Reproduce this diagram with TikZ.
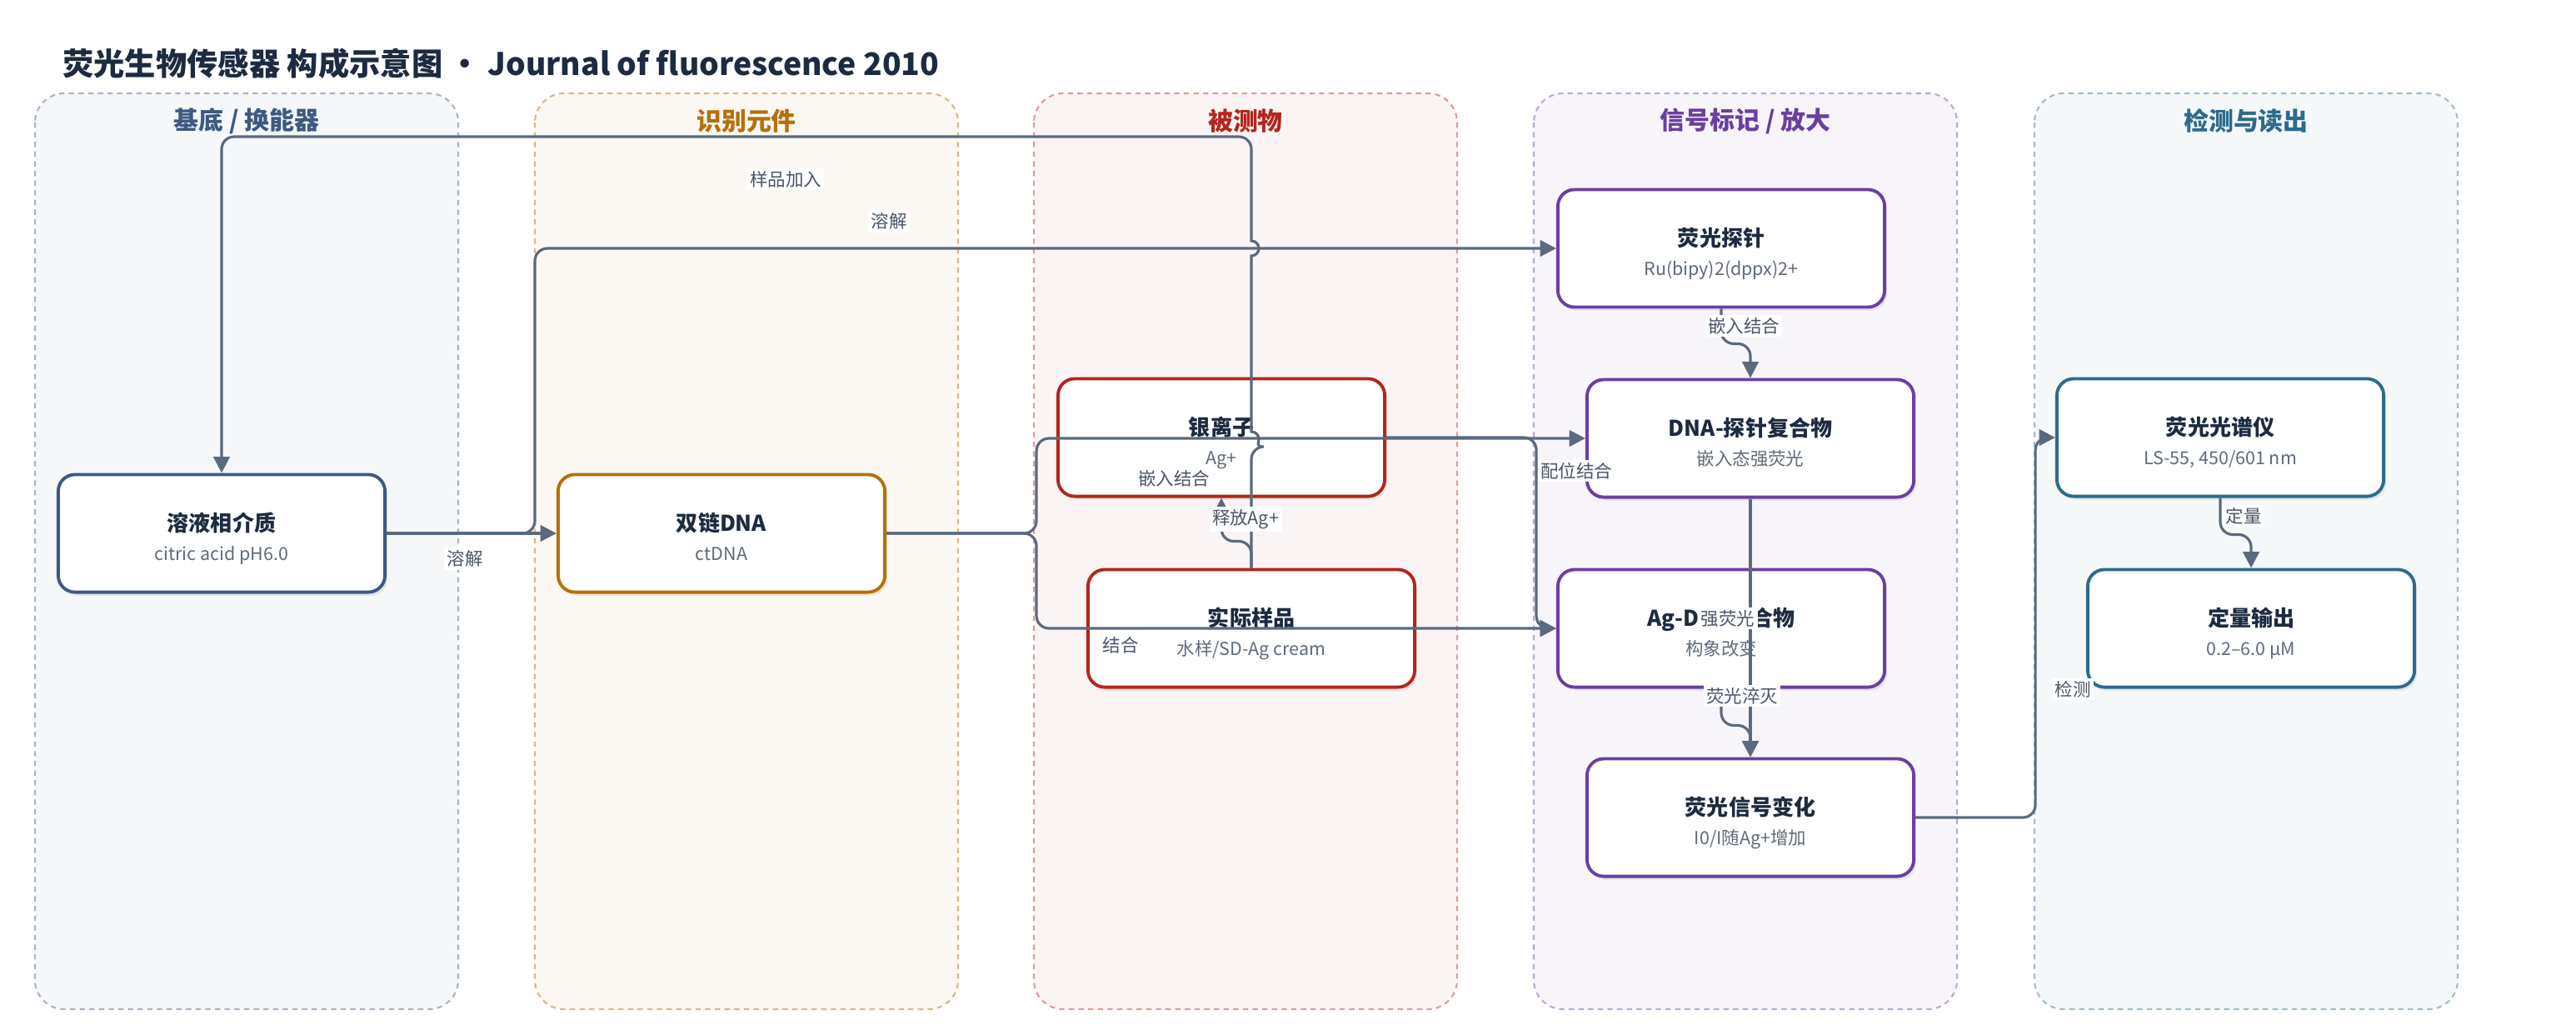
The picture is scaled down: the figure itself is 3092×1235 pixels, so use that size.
\documentclass[tikz,border=0pt]{standalone}
\usepackage{fontspec}
\setmainfont{Noto Sans CJK SC}
\usetikzlibrary{arrows.meta,shadows}

\definecolor{ink}{HTML}{1C2B40}
\definecolor{subgray}{HTML}{5F6B7A}
\definecolor{labgray}{HTML}{4A5566}
\definecolor{edgecol}{HTML}{5A6A7E}
\definecolor{substrate}{HTML}{3D5A80}
\definecolor{recog}{HTML}{B5700A}
\definecolor{analyte}{HTML}{B3261E}
\definecolor{signal}{HTML}{6B3FA0}
\definecolor{readout}{HTML}{2E6B8A}

\newcommand\boxtitle[1]{\rule{0pt}{11.6pt}{\fontsize{7.4}{10}\selectfont\bfseries\color{ink}#1}}

\begin{document}
\begin{tikzpicture}[x=0.01cm,y=-0.01cm]
        \tikzstyle{lane}=[dash pattern=on 1.8pt off 1.5pt, line width=0.6pt, rounded corners=0.35cm]
        \tikzstyle{lanetitle}=[font=\fontsize{8.5}{10}\selectfont\bfseries]
        \tikzstyle{box}=[rectangle, rounded corners=0.2cm, fill=white, line width=1.1pt, minimum width=3.92cm, minimum height=1.41cm, inner sep=0pt, font=\fontsize{6.1}{10}\selectfont, text=subgray, drop shadow={shadow xshift=0.8pt, shadow yshift=-1.2pt, opacity=0.15}]
        \tikzstyle{edge}=[draw=edgecol, line width=0.9pt, rounded corners=0.15cm, -{Triangle[length=5.5pt,width=5.5pt]}]
        \tikzstyle{lbl}=[fill=white, inner sep=1pt, font=\fontsize{6.1}{7}\selectfont, text=labgray]

        \useasboundingbox (0,0) rectangle (3092,1235);

        \node[anchor=west, font=\fontsize{10.6}{12}\selectfont\bfseries, text=ink] (title) at (63,76) {荧光生物传感器 构成示意图 • Journal of fluorescence 2010};

        \draw[lane, fill=substrate!5, draw=substrate!45] (42,112) rectangle (550,1211);
        \draw[lane, fill=recog!5, draw=recog!50] (642,112) rectangle (1150,1211);
        \draw[lane, fill=analyte!5, draw=analyte!45] (1241,112) rectangle (1749,1211);
        \draw[lane, fill=signal!5, draw=signal!45] (1841,112) rectangle (2349,1211);
        \draw[lane, fill=readout!5, draw=readout!45] (2442,112) rectangle (2950,1211);

        \node[lanetitle, text=substrate] (t1) at (296,145) {基底 / 换能器};
        \node[lanetitle, text=recog]     (t2) at (896,145) {识别元件};
        \node[lanetitle, text=analyte]   (t3) at (1495,145) {被测物};
        \node[lanetitle, text=signal]    (t4) at (2095,145) {信号标记 / 放大};
        \node[lanetitle, text=readout]   (t5) at (2696,145) {检测与读出};

        \node[box, draw=substrate] (sol)    at (266,640)  {\begin{tabular}{c} \boxtitle{溶液相介质}   \\ citric acid pH6.0  \end{tabular}};
        \node[box, draw=recog]     (dna)    at (866,640)  {\begin{tabular}{c} \boxtitle{双链DNA}      \\ ctDNA              \end{tabular}};
        \node[box, draw=analyte]   (ag)     at (1466,525) {\begin{tabular}{c} \boxtitle{银离子}       \\ Ag+                \end{tabular}};
        \node[box, draw=analyte]   (sample) at (1502,754) {\begin{tabular}{c} \boxtitle{实际样品}     \\ 水样/SD-Ag cream   \end{tabular}};
        \node[box, draw=signal]    (probe)  at (2066,298) {\begin{tabular}{c} \boxtitle{荧光探针}     \\ Ru(bipy)2(dppx)2+  \end{tabular}};
        \node[box, draw=signal]    (cplx)   at (2101,526) {\begin{tabular}{c} \boxtitle{DNA-探针复合物} \\ 嵌入态强荧光     \end{tabular}};
        \node[box, draw=signal]    (agd)    at (2066,754) {\begin{tabular}{c} \boxtitle{Ag-D\hphantom{NA复}合物} \\ 构象改变    \end{tabular}};
        \node[box, draw=signal]    (sig)    at (2101,981) {\begin{tabular}{c} \boxtitle{荧光信号变化} \\ I0/I随Ag+增加      \end{tabular}};
        \node[box, draw=readout]   (spec)   at (2665,525) {\begin{tabular}{c} \boxtitle{荧光光谱仪}   \\ LS-55, 450/601 nm  \end{tabular}};
        \node[box, draw=readout]   (out)    at (2702,754) {\begin{tabular}{c} \boxtitle{定量输出}     \\ 0.2–6.0 μM         \end{tabular}};

        \draw[edge] (sample.north) -- (1502,536) [sharp corners] arc[start angle=90, end angle=-90, radius=9] -- (1502,307) arc[start angle=90, end angle=-90, radius=9] -- (1502,180) [rounded corners=0.15cm] -- (1502,164) -| (sol.north);
        \draw[edge] (sol.east) -- (dna.west);
        \draw[edge] (sol.east) -- ++(178,0) |- (probe.west);
        \draw[edge] (dna.east) -- ++(180,0) |- (cplx.west);
        \draw[edge] (dna.east) -- ++(180,0) |- (agd.west);
        \draw[edge] (ag.east) -- ++(180,0) |- (agd.west);
        \draw[edge] (sample.north) -- ++(0,-32) -| (ag.south);
        \draw[edge] (probe.south) -- ++(0,42) -| (cplx.north);
        \draw[edge] (cplx.south) -- (sig.north);
        \draw[edge] (agd.south) -- ++(0,44) -| (sig.north);
        \draw[edge] (sig.east) -- ++(144,0) |- (spec.west);
        \draw[edge] (spec.south) -- ++(0,44) -| (out.north);

        \node[lbl] (l1)  at (943,215)  {样品加入};
        \node[lbl] (l2)  at (1067,265) {溶解};
        \node[lbl] (l3)  at (558,670)  {溶解};
        \node[lbl] (l4)  at (1409,574) {嵌入结合};
        \node[lbl] (l5)  at (1345,774) {结合};
        \node[lbl] (l6)  at (1495,623) {释放Ag+};
        \node[lbl] (l7)  at (1892,565) {配位结合};
        \node[lbl] (l8)  at (2093,391) {嵌入结合};
        \node[lbl] (l9)  at (2074,742) {强荧光};
        \node[lbl] (l10) at (2091,835) {荧光淬灭};
        \node[lbl] (l11) at (2488,827) {检测};
        \node[lbl] (l12) at (2693,619) {定量};
    \end{tikzpicture}
\end{document}
